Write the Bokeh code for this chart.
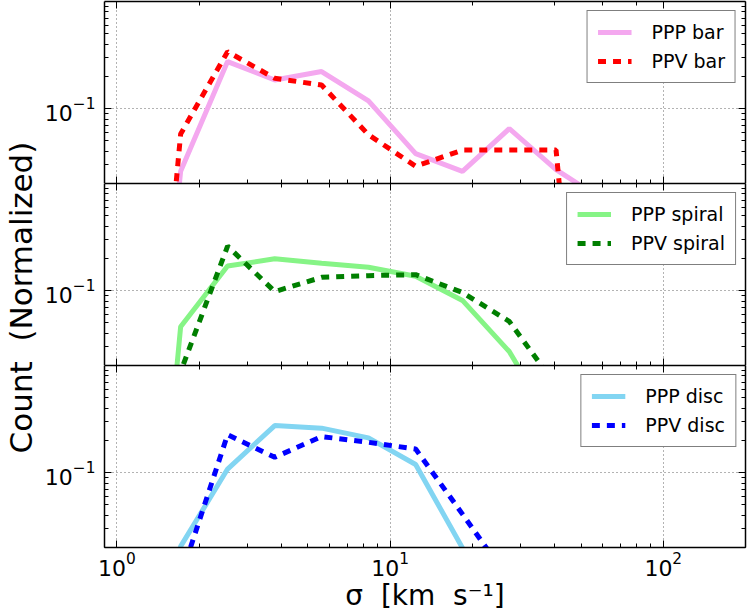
from math import pi
from bokeh.plotting import figure
from bokeh.models import LogAxis, FixedTicker, LogTicker, LogTickFormatter, Range1d, Label
from bokeh.layouts import row, column
from bokeh.embed import file_html
from bokeh.resources import INLINE

# ---- data (bin centres in km/s, normalized counts; 0 = empty bin) ----
SIGMA = [1.15, 1.71, 2.54, 3.78, 5.61, 8.33, 12.4, 18.4, 27.3, 40.5, 60.2, 89.4, 132.8]
PPP_BAR = [0, 0.026, 0.275, 0.185, 0.222, 0.118, 0.038, 0.026, 0.065, 0.027, 0.014, 0, 0]
PPV_BAR = [0, 0.058, 0.340, 0.192, 0.166, 0.057, 0.029, 0.041, 0.041, 0.041, 0, 0, 0]
PPP_SPIRAL = [0, 0.046, 0.170, 0.198, 0.180, 0.165, 0.136, 0.081, 0.027, 0.005, 0, 0, 0]
PPV_SPIRAL = [0, 0.0175, 0.260, 0.098, 0.133, 0.138, 0.141, 0.096, 0.0516, 0.013, 0, 0, 0]
PPP_DISC = [0, 0.0205, 0.108, 0.275, 0.260, 0.211, 0.119, 0.0198, 0, 0, 0, 0, 0]
PPV_DISC = [0, 0.0105, 0.226, 0.139, 0.217, 0.192, 0.166, 0.041, 0.0099, 0, 0, 0, 0]

LABELS = [("PPP bar", "PPV bar"), ("PPP spiral", "PPV spiral"), ("PPP disc", "PPV disc")]
NB = "\u00a0"
X_LABEL = "σ" + NB * 2 + "[km" + NB * 2 + "s⁻¹]"
Y_LABEL = "Count" + NB * 2 + "(Normalized)"
Y_MAJOR = [0.1]
Y_MINOR = [k / 100 for k in range(2, 10)] + [k / 10 for k in range(2, 10)]

FLOOR = 1e-6  # empty bins on a log axis
FONT = "DejaVu Sans"


def clip(vals):
    return [v if v > 0 else FLOOR for v in vals]


def style_axis(ax, show_labels):
    ax.axis_line_color = "black"
    ax.axis_line_width = 1.5
    ax.major_tick_in = 7
    ax.major_tick_out = 0
    ax.minor_tick_in = 4
    ax.minor_tick_out = 0
    ax.major_tick_line_color = "black"
    ax.minor_tick_line_color = "black"
    ax.major_label_text_font = FONT
    if show_labels:
        ax.major_label_text_font_size = "22px"
        ax.major_label_text_color = "black"
        ax.major_label_standoff = 9
    else:
        ax.major_label_text_font_size = "1px"
        ax.major_label_text_color = None
        ax.major_label_standoff = 0


def make_panel(solid, solid_color, dashed, dashed_color, labels, height, mb_top, mb_bottom, bottom):
    p = figure(width=707, height=height, x_axis_type="log", y_axis_type="log",
               x_range=Range1d(0.9, 200), y_range=Range1d(0.02, 1.0),
               output_backend="svg", toolbar_location=None,
               min_border_left=64, min_border_right=2,
               min_border_top=mb_top, min_border_bottom=mb_bottom)
    p.outline_line_color = None
    p.background_fill_color = "white"
    yt = FixedTicker(ticks=Y_MAJOR, minor_ticks=Y_MINOR)
    p.yaxis.ticker = yt
    p.yaxis.formatter = LogTickFormatter()
    style_axis(p.yaxis[0], True)
    style_axis(p.xaxis[0], bottom)
    if bottom:
        p.xaxis.axis_label = X_LABEL
        p.xaxis.axis_label_text_font = FONT
        p.xaxis.axis_label_text_font_size = "28px"
        p.xaxis.axis_label_text_font_style = "normal"
        p.xaxis.axis_label_text_color = "black"
        p.xaxis.axis_label_standoff = 0
        p.xaxis.major_label_standoff = 4
    right = LogAxis(ticker=FixedTicker(ticks=Y_MAJOR, minor_ticks=Y_MINOR), formatter=LogTickFormatter())
    style_axis(right, False)
    p.add_layout(right, "right")
    top = LogAxis(ticker=LogTicker(), formatter=LogTickFormatter())
    style_axis(top, False)
    p.add_layout(top, "above")

    p.xgrid.grid_line_color = "black"
    p.ygrid.grid_line_color = "black"
    p.xgrid.grid_line_alpha = 0.6
    p.ygrid.grid_line_alpha = 0.6
    p.xgrid.grid_line_dash = "1 3"
    p.ygrid.grid_line_dash = "1 3"
    p.ygrid.ticker = yt

    p.line(SIGMA, clip(solid), line_color=solid_color, line_width=5, legend_label=labels[0])
    p.line(SIGMA, clip(dashed), line_color=dashed_color, line_width=5, line_dash="8 7",
           legend_label=labels[1])

    lg = p.legend[0]
    lg.location = "top_right"
    lg.margin = 9
    lg.padding = 10
    lg.spacing = 7
    lg.border_line_color = "black"
    lg.border_line_width = 1.2
    lg.background_fill_alpha = 1
    lg.label_text_font = FONT
    lg.label_text_font_size = "19px"
    lg.label_text_color = "black"
    lg.glyph_width = 34
    lg.glyph_height = 20
    lg.label_height = 20
    lg.label_standoff = 20
    return p


p1 = make_panel(PPP_BAR, "#F4A8EF", PPV_BAR, "#FF0000", LABELS[0], 183, 1, 0, False)
p2 = make_panel(PPP_SPIRAL, "#86F486", PPV_SPIRAL, "#007F00", LABELS[1], 182, 0, 0, False)
p3 = make_panel(PPP_DISC, "#82D5F2", PPV_DISC, "#0000FF", LABELS[2], 249, 0, 67, True)

lab = figure(width=40, height=614, x_range=Range1d(0, 40), y_range=Range1d(0, 614),
             x_axis_type=None, y_axis_type=None, output_backend="svg",
             toolbar_location=None, min_border=0)
lab.outline_line_color = None
lab.add_layout(Label(x=20, y=317, text=Y_LABEL, angle=pi / 2, text_align="center",
                     text_baseline="middle", text_font_size="31px", text_font=FONT,
                     text_color="black"))

layout = row(lab, column(p1, p2, p3))
open("out.html", "w").write(file_html(layout, INLINE))
